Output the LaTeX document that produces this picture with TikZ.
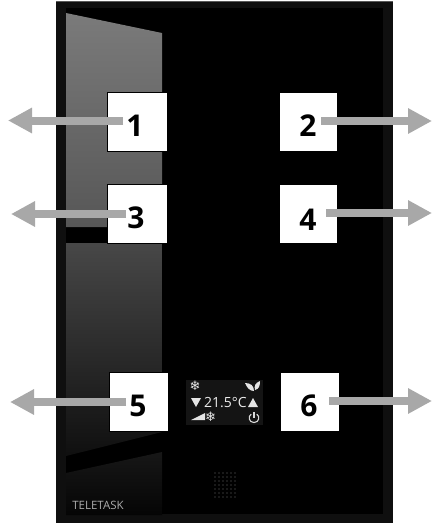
\documentclass[tikz,border=0pt]{standalone}
\usepackage{fontspec}
\setmainfont{Open Sans}
\newfontfamily\symfont{DejaVu Sans}
\usetikzlibrary{arrows.meta}
\definecolor{arrowgray}{HTML}{A8A8A8}
\tikzset{
  x=1pt,y=-1pt,
  keybox/.style={draw=black,line width=0.8pt,fill=white,minimum width=#1,minimum height=59pt,inner sep=0pt,anchor=center},
  keynum/.style={font=\fontsize{30}{30}\selectfont\bfseries,text=black,inner sep=0pt,anchor=center},
  callout/.style={draw=arrowgray,line width=8pt,-{Triangle[length=24pt,width=24pt,fill=arrowgray]}},
  icon/.style={fill=white!90!black,draw=none},
  lcd/.style={inner sep=0pt,text=white!92!black},
}
\begin{document}
\begin{tikzpicture}
\useasboundingbox (0,0) rectangle (432,523);
\fill[white] (0,0) rectangle (432,523);
% panel
\fill[black!94!white] (56,1) rectangle (393,523);
\fill[black] (66,8) rectangle (383,514);
\draw[black!65!white,line width=0.8pt] (56,1.5) -- (393,1.5);
% reflections
\shade[top color=black!52!white,bottom color=black!66!white] (66,13) -- (162,33) -- (162,227) -- (66,227) -- cycle;
\shade[top color=black!72!white,middle color=black!86!white,bottom color=black!94!white] (66,243) -- (162,243) -- (162,432) -- (66,456) -- cycle;
\shade[top color=black!91!white,bottom color=black!98!white] (66,473) -- (162,452) -- (162,515) -- (66,515) -- cycle;
% microphone dots
\foreach \i in {0,...,5}\foreach \j in {0,...,6}
  \fill[black!90!white] (214+\i*4,472+\j*4) rectangle +(2,2);
% display
\fill[black!92!white] (186,380) rectangle (263,425);
\node[lcd,font=\symfont\fontsize{13}{13}\selectfont] (snow) at (195,386) {❄};
\fill[icon] (245,383) .. controls (251,383) and (254,386) .. (254,391) .. controls (250,391) and (247,388) .. cycle;
\fill[icon] (255,390) .. controls (254,386) and (255,383) .. (260,381) .. controls (260,386) and (259,389) .. cycle;
\fill[icon] (191,398) -- (201,398) -- (196,407) -- cycle;
\fill[icon] (248,407) -- (258,407) -- (253,398) -- cycle;
\node[lcd,font=\fontsize{14}{14}\selectfont] (temp) at (225.5,402.5) {21.5°C};
\fill[icon] (191,420) -- (205,413) -- (205,420) -- cycle;
\node[lcd,font=\symfont\fontsize{13}{13}\selectfont] (fan) at (210.5,416.5) {❄};
\draw[white!85!black,line width=1.1pt] (251.2,414.2) .. controls (248,416) and (248.5,422.5) .. (254,422.5) .. controls (259.5,422.5) and (260,416) .. (256.8,414.2);
\draw[white!85!black,line width=1.1pt] (254,412) -- (254,418);
% brand
\node[inner sep=0pt,text=black!33!white,font=\fontsize{11.5}{11.5}\selectfont] (brand) at (98,505) {TELETASK};
% keys
\node[keybox=60pt] (k1) at (137,122) {};
\node[keybox=58pt] (k2) at (308,122) {};
\node[keybox=60pt] (k3) at (137,214) {};
\node[keybox=58pt] (k4) at (308,214) {};
\node[keybox=59pt] (k5) at (138.5,401.5) {};
\node[keybox=59pt] (k6) at (309.5,401.5) {};
% callout ends
\coordinate (s1) at (123,120.5); \coordinate (t1) at (8,120.5);
\coordinate (s2) at (321,121);   \coordinate (t2) at (432,121);
\coordinate (s3) at (126,214);   \coordinate (t3) at (11,214);
\coordinate (s4) at (326,213);   \coordinate (t4) at (432,213);
\coordinate (s5) at (126,402);   \coordinate (t5) at (10,402);
\coordinate (s6) at (329,401);   \coordinate (t6) at (432,401);
\foreach \n in {1,...,6} \draw[callout] (s\n) -- (t\n);
% numbers
\node[keynum] (n1) at (135,126) {1};
\node[keynum] (n2) at (308,126) {2};
\node[keynum] (n3) at (136,218) {3};
\node[keynum] (n4) at (308,220) {4};
\node[keynum] (n5) at (138,406) {5};
\node[keynum] (n6) at (309,406) {6};
\end{tikzpicture}
\end{document}
